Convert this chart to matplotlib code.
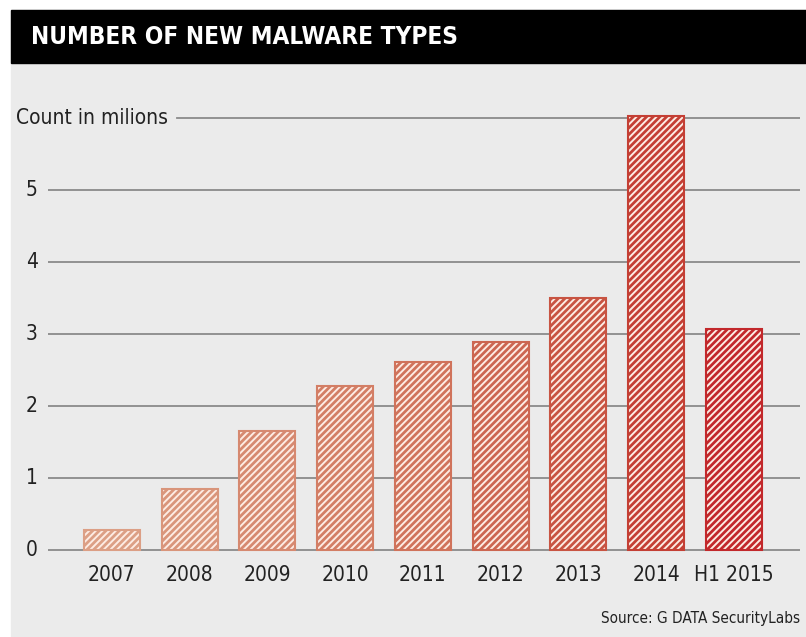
import matplotlib

matplotlib.use("Agg")
import matplotlib.pyplot as plt
from matplotlib.patches import Rectangle

years = ["2007", "2008", "2009", "2010", "2011", "2012", "2013", "2014", "H1 2015"]
counts = [0.28, 0.85, 1.65, 2.28, 2.61, 2.89, 3.50, 6.03, 3.07]
y_ticks = [0, 1, 2, 3, 4, 5]
colors = ["#dc9f85", "#d9957b", "#d68970", "#d37e65", "#d0735b", "#cc6651",
          "#c85442", "#c43f34", "#c2282b"]

plt.rcParams["font.family"] = ["DejaVu Sans"]
plt.rcParams["font.stretch"] = "condensed"
plt.rcParams["hatch.linewidth"] = 1.4

W, H = 806, 637
fig = plt.figure(figsize=(W / 100, H / 100), dpi=100, facecolor="white")

# page background and black header band
fig.patches.append(Rectangle((11 / W, 0), 1, 1 - 10 / H, transform=fig.transFigure,
                             color="#ebebeb", zorder=-5))
fig.patches.append(Rectangle((11 / W, 1 - 63 / H), 1, 53 / H, transform=fig.transFigure,
                             color="black", zorder=-4))
fig.text(31 / W, 1 - 37 / H, "NUMBER OF NEW MALWARE TYPES", color="white",
         fontsize=17.5, fontweight="bold", va="center", ha="left")

ax = fig.add_axes([48 / W, 1 - 560 / H, 752 / W, 460 / H])
ax.set_facecolor("none")
ax.set_xlim(-0.82, 8.85)
ax.set_ylim(-0.139, 6.25)
ax.axis("off")

for y in y_ticks:
    ax.axhline(y, color="#8a8a8a", lw=1.3, zorder=1)
    ax.text(-0.95, y, str(y), ha="right", va="center", fontsize=15, color="#222222")
ax.axhline(6, xmin=0.1715, color="#8a8a8a", lw=1.3, zorder=1)
ax.text(0.72, 6, "Count in milions", ha="right", va="center", fontsize=15, color="#222222")

# sketchy look: solid fill with light diagonal strokes, then a coloured outline
xs = range(len(years))
ax.bar(xs, counts, width=0.72, color=colors, edgecolor="#fdebe3", linewidth=0,
       hatch="/////", zorder=2)
ax.bar(xs, counts, width=0.72, fill=False, edgecolor=colors, linewidth=1.5, zorder=3)

for x, lab in zip(xs, years):
    ax.text(x, -0.35, lab, ha="center", va="center", fontsize=15, color="#222222")

fig.text(800 / W, 1 - 619 / H, "Source: G DATA SecurityLabs", ha="right", va="center",
         fontsize=11, color="#222222")

fig.savefig("out.png", dpi=100)
